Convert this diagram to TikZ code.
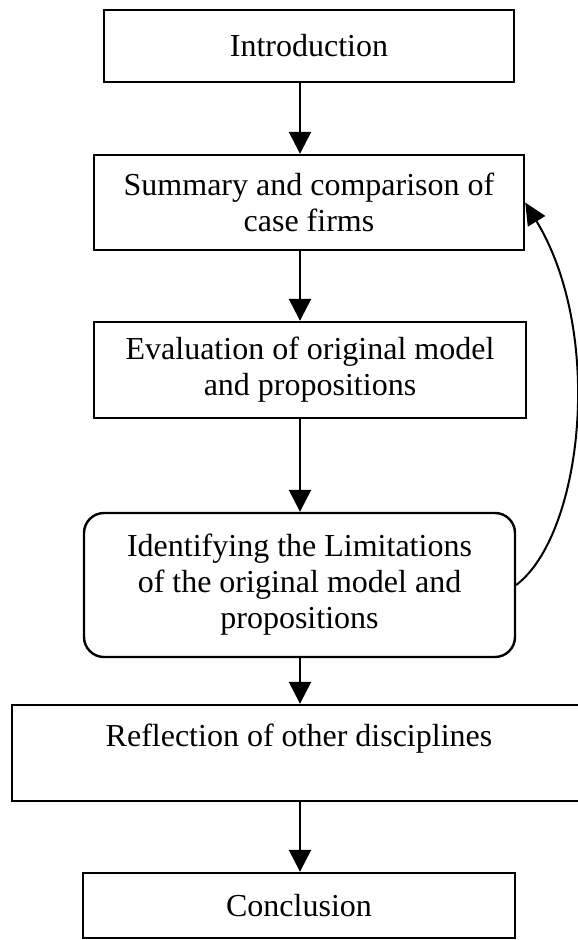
\documentclass[tikz,border=0pt]{standalone}
\usepackage{fontspec}
\setmainfont{Liberation Serif}
\usetikzlibrary{arrows.meta}
\begin{document}
\begin{tikzpicture}[x=1pt,y=-1pt,
  box/.style={draw,line width=2.4pt,align=center,inner sep=0pt,
    font=\fontsize{32}{36}\selectfont},
  roundbox/.style={box,rounded corners=20pt},
  flow/.style={line width=2.4pt,-{Triangle[length=22pt,width=22pt]}},
  loopback/.style={line width=2pt,-{Triangle[length=22pt,width=20pt]}}]
\useasboundingbox[fill=white] (0,0) rectangle (578,940);

% boxes of the flow
\node[box,minimum width=410,minimum height=72] (intro) at (309,46) {Introduction};
\node[box,minimum width=430,minimum height=95] (summary) at (309,202.5)
  {Summary and comparison of\\case firms};
\node[box,minimum width=432,minimum height=96] (eval) at (310,370)
  {Evaluation of original model\\and propositions};
\node[roundbox,minimum width=431,minimum height=144] (ident) at (299.5,585)
  {Identifying the Limitations\\of the original model and\\propositions};
\node[box,minimum width=574,minimum height=96] (reflect) at (299,753)
  {Reflection of other disciplines\\\mbox{}};
\node[box,minimum width=432,minimum height=65] (concl) at (299,905.5) {Conclusion};

% column of the downward arrows
\coordinate (col) at (300,0);

\draw[flow] (intro.south -| col) -- (summary.north -| col);
\draw[flow] (summary.south -| col) -- (eval.north -| col);
\draw[flow] (eval.south -| col) -- (ident.north -| col);
\draw[flow] (ident.south -| col) -- (reflect.north -| col);
\draw[flow] (reflect.south -| col) -- (concl.north -| col);

% feedback loop back to the summary
\draw[loopback] (ident.east) .. controls +(66,-50) and +(80,132) .. (summary.east);
\end{tikzpicture}
\end{document}
